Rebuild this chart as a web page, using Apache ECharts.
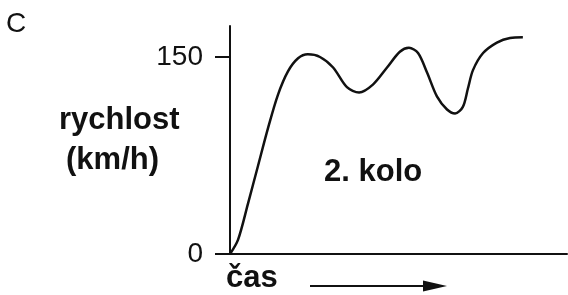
<!DOCTYPE html>
<html>
<head>
<meta charset="utf-8">
<script src="https://cdn.jsdelivr.net/npm/echarts@6/dist/echarts.min.js"></script>
<style>
    html, body { margin: 0; padding: 0; background: #fff; }
    #chart { width: 568px; height: 295px; }
</style>
</head>
<body>
<div id="chart"></div>
<script>
// time (arbitrary units) and speed in km/h
const timeValues = [0, 2.4, 5.3, 8.3, 11.3, 14.2, 17.2, 20.2, 23.1, 26.7, 30.6, 34.7, 38.3, 42.4, 46.6, 50.4, 53.1, 55.8, 58.5, 61.4, 64.4, 66.8, 69.1, 70.6, 72.1, 75.1, 79.2, 83.1, 86.9];
const speedValues = [0, 11, 38, 67, 96, 121, 139, 149, 152, 150, 142, 127, 123, 129, 142, 154, 157, 153, 138, 120, 110, 107, 112, 126, 140, 153, 161, 164.5, 165];
const yTickValues = [0, 150];

const ink = '#111';
const chart = echarts.init(document.getElementById('chart'));

chart.setOption({
    animation: false,
    backgroundColor: '#fff',
    grid: { left: 230, right: 1, top: 26, bottom: 41 },
    xAxis: {
        type: 'value',
        min: 0,
        max: 100,
        axisLine: { show: true, lineStyle: { color: ink, width: 2 } },
        axisTick: { show: false },
        axisLabel: { show: false },
        splitLine: { show: false }
    },
    yAxis: {
        type: 'value',
        min: 0,
        max: 173.6,
        axisLine: { show: true, lineStyle: { color: ink, width: 2 } },
        axisTick: { show: true, length: 15, customValues: yTickValues, lineStyle: { color: ink, width: 2 } },
        axisLabel: {
            customValues: yTickValues,
            margin: 27,
            fontSize: 28,
            color: ink,
            fontFamily: 'Liberation Sans'
        },
        splitLine: { show: false }
    },
    series: [{
        type: 'line',
        data: timeValues.map((t, i) => [t, speedValues[i]]),
        smooth: 0.3,
        showSymbol: false,
        lineStyle: { color: ink, width: 2.5 }
    }],
    graphic: [
        { type: 'text', x: 6, y: 24, style: { text: 'C', font: '28px "Liberation Sans"', fill: ink, verticalAlign: 'middle' } },
        { type: 'text', x: 59, y: 120, style: { text: 'rychlost', font: 'bold 31px "Liberation Sans"', fill: ink, verticalAlign: 'middle' } },
        { type: 'text', x: 66, y: 160, style: { text: '(km/h)', font: 'bold 31px "Liberation Sans"', fill: ink, verticalAlign: 'middle' } },
        { type: 'text', x: 324, y: 172, style: { text: '2. kolo', font: 'bold 31px "Liberation Sans"', fill: ink, verticalAlign: 'middle' } },
        { type: 'text', x: 226, y: 278, style: { text: 'čas', font: 'bold 31px "Liberation Sans"', fill: ink, verticalAlign: 'middle' } },
        { type: 'line', shape: { x1: 310, y1: 286, x2: 428, y2: 286 }, style: { stroke: ink, lineWidth: 2 } },
        { type: 'polygon', shape: { points: [[447, 286], [423, 280.5], [423, 291.5]] }, style: { fill: ink } }
    ]
});
</script>
</body>
</html>
